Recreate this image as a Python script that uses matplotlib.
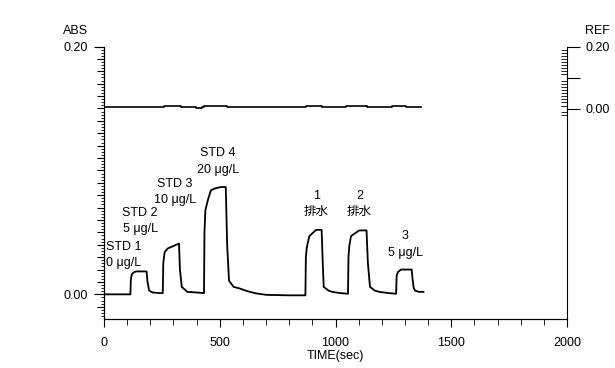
import numpy as np
import matplotlib
matplotlib.use("Agg")
import matplotlib.pyplot as plt
from matplotlib.ticker import FixedLocator, MultipleLocator, FixedFormatter

plt.rcParams['font.family'] = ['Liberation Sans', 'DejaVu Sans']

# ABS trace (time in sec, absorbance)
abs_t = [0, 105, 114, 116, 120, 128, 140, 184, 188, 195, 210, 240, 254,
         256, 262, 275, 300, 324, 328, 336, 360, 400, 432,
         434, 438, 450, 462, 480, 505, 526, 532, 540, 560, 585, 620, 656, 700, 800, 870,
         872, 876, 887, 916, 940, 945, 949, 970, 986, 1020, 1054,
         1056, 1060, 1067, 1090, 1103, 1134, 1140, 1149, 1170, 1189, 1230, 1262,
         1264, 1270, 1283, 1329, 1333, 1338, 1344, 1360, 1380]
abs_v = [0.0, 0.0, 0.0, 0.012, 0.016, 0.0178, 0.0185, 0.0185, 0.010, 0.003, 0.0015, 0.001, 0.001,
         0.025, 0.034, 0.037, 0.039, 0.041, 0.020, 0.006, 0.002, 0.0015, 0.001,
         0.050, 0.068, 0.077, 0.084, 0.0855, 0.0866, 0.0866, 0.040, 0.011, 0.006, 0.0048, 0.0025, 0.0008, -0.0004, -0.0008, -0.0008,
         0.030, 0.038, 0.047, 0.052, 0.052, 0.025, 0.006, 0.003, 0.002, 0.001, 0.0005,
         0.030, 0.0395, 0.047, 0.050, 0.0516, 0.0516, 0.025, 0.006, 0.003, 0.002, 0.001, 0.0005,
         0.015, 0.018, 0.020, 0.020, 0.012, 0.005, 0.003, 0.002, 0.002]

# REF trace
ref_t = [0, 260, 260, 333, 333, 398, 398, 424, 424, 432, 432, 532, 532,
         874, 874, 943, 943, 1047, 1047, 1137, 1137, 1246, 1246, 1306, 1306, 1371]
ref_v = [0.0042, 0.0042, 0.0074, 0.0074, 0.0042, 0.0042, 0.0016, 0.0016, 0.0042, 0.0042, 0.0097, 0.0097, 0.0042,
         0.0042, 0.0074, 0.0074, 0.0042, 0.0042, 0.0074, 0.0074, 0.0042, 0.0042, 0.0074, 0.0074, 0.0042, 0.0042]

# annotations
label_text = ["STD 1\n0 μg/L", "STD 2\n5 μg/L", "STD 3\n10 μg/L", "STD 4\n20 μg/L",
              "1\n排水", "2\n排水", "3\n5 μg/L"]
label_t = [86, 156, 307, 493, 917, 1103, 1302]
label_v = [0.0321, 0.0592, 0.0826, 0.1072, 0.0729, 0.0729, 0.0402]

fig = plt.figure(figsize=(6.15, 3.68), dpi=100)
ax = fig.add_axes([104/615, 1-319/368, 463/615, 272.5/368])

ax.plot(abs_t, abs_v, color='black', lw=1.3)
ax.set_xlim(0, 2000)
ax.set_ylim(-0.0199, 0.20)

for s in ['top', 'right']:
    ax.spines[s].set_visible(False)

ax.xaxis.set_major_locator(MultipleLocator(500))
ax.xaxis.set_minor_locator(MultipleLocator(100))
ax.tick_params(axis='x', which='major', length=6, pad=7, labelsize=9)
ax.tick_params(axis='x', which='minor', length=4)
ax.set_xlabel('TIME(sec)', fontsize=9, labelpad=1)

ax.yaxis.set_major_locator(FixedLocator([0.0, 0.2]))
ax.yaxis.set_major_formatter(FixedFormatter(['0.00', '0.20']))
ax.yaxis.set_minor_locator(FixedLocator(np.arange(-0.0175, 0.2001, 0.0025)))
ax.tick_params(axis='y', which='major', length=7, pad=4.5, labelsize=9)
ax.tick_params(axis='y', which='minor', length=2.5)

mid = ax.secondary_yaxis('left')
mid.set_yticks(np.arange(-0.01, 0.2001, 0.01))
mid.set_yticklabels([])
mid.tick_params(length=5)

for txt, t, v in zip(label_text, label_t, label_v):
    ax.text(t, v, txt, ha='center', va='center', fontsize=9, linespacing=1.45,
            family=['Liberation Sans', 'Noto Sans CJK JP', 'DejaVu Sans'])

ax2 = ax.twinx()
ax2.plot(ref_t, ref_v, color='black', lw=1.2)
ax2.set_ylim(-0.677, 0.20)
ax2.spines['top'].set_visible(False)
ax2.spines['left'].set_visible(False)
ax2.yaxis.set_major_locator(FixedLocator([0.0, 0.1, 0.2]))
ax2.yaxis.set_major_formatter(FixedFormatter(['0.00', '', '0.20']))
ax2.yaxis.set_minor_locator(FixedLocator(np.arange(-0.02, 0.2001, 0.01)))
ax2.tick_params(axis='y', which='major', direction='out', length=9, pad=4, labelsize=9)
ax2.tick_params(axis='y', which='minor', direction='in', length=4.5)

fig.text(63/615, 1-31/368, 'ABS', ha='left', va='center', fontsize=9)
fig.text(585/615, 1-31/368, 'REF', ha='left', va='center', fontsize=9)

fig.savefig('out.png', dpi=100)
